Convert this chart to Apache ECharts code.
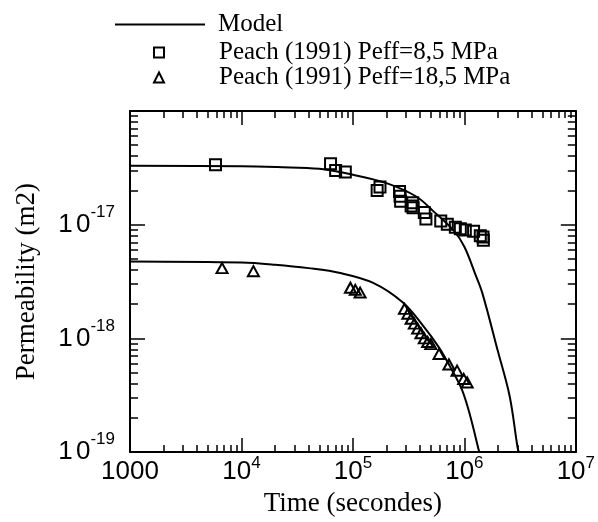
<!DOCTYPE html>
<html><head><meta charset="utf-8">
<script src="https://cdn.jsdelivr.net/npm/echarts@6/dist/echarts.min.js"></script>
<style>html,body{margin:0;padding:0;background:#fff}#c{width:598px;height:522px}</style>
</head><body><div id="c"></div>
<script>
// Model curves
const modelHighT = [1000, 1e4, 2.1e4, 5e4, 1e5, 2e5, 3.7e5, 5.2e5, 8e5, 1e6, 1.25e6, 1.45e6, 2e6, 2.55e6, 3.0e6, 3.08e6];
const modelHighK = [3.3e-17, 3.27e-17, 3.21e-17, 3.1e-17, 2.75e-17, 2.32e-17, 1.77e-17, 1.33e-17, 8.9e-18, 6.4e-18, 3.7e-18, 2.5e-18, 7.7e-19, 3.1e-19, 1.1e-19, 1e-19];
const modelLowT = [1000, 1e4, 2e4, 4e4, 7.7e4, 1.52e5, 2.81e5, 4.22e5, 5.93e5, 7.8e5, 9.55e5, 1.13e6, 1.34e6, 1.36e6];
const modelLowK = [4.75e-18, 4.65e-18, 4.45e-18, 4.15e-18, 3.76e-18, 3.08e-18, 2.07e-18, 1.31e-18, 8.3e-19, 5.2e-19, 3.5e-19, 2.07e-19, 1.06e-19, 1e-19];
// Peach (1991) Peff=8,5 MPa
const sqT = [5850, 6.3e4, 7.0e4, 8.55e4, 1.65e5, 1.75e5, 2.62e5, 2.65e5, 2.68e5, 3.33e5, 3.44e5, 3.47e5, 4.37e5, 4.52e5, 6.14e5, 7.03e5, 8.3e5, 9.2e5, 1.02e6, 1.21e6, 1.39e6, 1.48e6, 1.47e6];
const sqK = [3.36e-17, 3.43e-17, 3.0e-17, 2.91e-17, 2.0e-17, 2.15e-17, 1.96e-17, 1.78e-17, 1.61e-17, 1.46e-17, 1.56e-17, 1.41e-17, 1.28e-17, 1.12e-17, 1.08e-17, 1.01e-17, 9.5e-18, 9.2e-18, 9.0e-18, 8.75e-18, 8.0e-18, 7.3e-18, 7.8e-18];
// Peach (1991) Peff=18,5 MPa
const triT = [6700, 1.28e4, 9.5e4, 1.05e5, 1.16e5, 2.9e5, 3.11e5, 3.33e5, 3.56e5, 3.81e5, 4.08e5, 4.37e5, 4.68e5, 5.0e5, 5.93e5, 7.27e5, 8.6e5, 9.86e5, 1.06e6];
const triK = [4.15e-18, 3.9e-18, 2.79e-18, 2.67e-18, 2.53e-18, 1.82e-18, 1.65e-18, 1.49e-18, 1.35e-18, 1.22e-18, 1.11e-18, 1.0e-18, 9.3e-19, 8.9e-19, 7.3e-19, 5.9e-19, 5.2e-19, 4.4e-19, 4.1e-19];
// Ticks
const xMajor = [1000, 1e4, 1e5, 1e6, 1e7];
const yMajor = [1e-19, 1e-18, 1e-17, 1e-16];
const yLabels = [1e-19, 1e-18, 1e-17];
const names = ['Model', 'Peach (1991) Peff=8,5 MPa', 'Peach (1991) Peff=18,5 MPa'];

function minors(majors) {
  const out = [];
  for (let i = 0; i < majors.length - 1; i++) for (let m = 2; m <= 9; m++) out.push(majors[i] * m);
  return out;
}
const xMinor = minors(xMajor), yMinor = minors(yMajor);
const zip = (a, b) => a.map((v, i) => [v, b[i]]);
const exp = v => Math.round(Math.log10(v));

const SANS = 'Liberation Sans', SERIF = 'Liberation Serif';
const xRich = {
  b: {fontFamily: SANS, fontSize: 26, lineHeight: 30, verticalAlign: 'bottom', color: '#000'},
  s: {fontFamily: SANS, fontSize: 17, lineHeight: 17, verticalAlign: 'top', color: '#000'}
};
const yRich = {
  b: {fontFamily: SANS, fontSize: 26, lineHeight: 34, verticalAlign: 'bottom', color: '#000'},
  sp: {fontFamily: SANS, fontSize: 12, lineHeight: 34, verticalAlign: 'bottom'},
  s: {fontFamily: SANS, fontSize: 17, lineHeight: 17, verticalAlign: 'top', color: '#000'}
};
const lineC = {show: true, lineStyle: {color: '#000', width: 2}};
function xAx(pos, major, labels) {
  return {
    type: 'log', logBase: 10, min: 1000, max: 1e7, position: pos,
    axisLine: major ? lineC : {show: false},
    splitLine: {show: false},
    axisTick: {show: true, inside: true, length: major ? 14 : 7, customValues: major ? xMajor : xMinor, lineStyle: {color: '#000', width: 1.5}},
    minorTick: {show: false},
    axisLabel: labels ? {
      show: true, customValues: xMajor, margin: 3,
      formatter: v => v === 1000 ? '{b|1000}' : '{b|10}{s|' + exp(v) + '}', rich: xRich
    } : {show: false}
  };
}
function yAx(pos, major, labels) {
  return {
    type: 'log', logBase: 10, min: 1e-19, max: 1e-16, position: pos,
    axisLine: major ? lineC : {show: false},
    splitLine: {show: false},
    axisTick: {show: true, inside: true, length: major ? 15 : 8, customValues: major ? yMajor : yMinor, lineStyle: {color: '#000', width: 1.5}},
    minorTick: {show: false},
    axisLabel: labels ? {
      show: true, customValues: yLabels, margin: 15, padding: [0, 0, 8, 0],
      formatter: v => '{b|1}{sp| }{b|0}{s|' + exp(v) + '}', rich: yRich
    } : {show: false}
  };
}
const xAxes = [xAx('bottom', true, true), xAx('bottom', false, false), xAx('top', true, false), xAx('top', false, false)];
xAxes[0].name = 'Time (secondes)';
xAxes[0].nameLocation = 'middle';
xAxes[0].nameGap = 20;
xAxes[0].nameTextStyle = {fontFamily: SERIF, fontSize: 27, color: '#000'};
const yAxes = [yAx('left', true, true), yAx('left', false, false), yAx('right', true, false), yAx('right', false, false)];
yAxes[0].name = 'Permeability (m2)';
yAxes[0].nameLocation = 'middle';
yAxes[0].nameGap = 90;
yAxes[0].nameTextStyle = {fontFamily: SERIF, fontSize: 27, color: '#000'};

const legText = {fontFamily: SERIF, fontSize: 25, lineHeight: 25, color: '#000'};
const option = {
  animation: false,
  backgroundColor: '#fff',
  grid: {left: 130, right: 16, top: 111, bottom: 62},
  legend: [
    {data: [{name: names[0], icon: 'rect'}], left: 110, top: 7, itemWidth: 90, itemHeight: 2, itemGap: 0,
     itemStyle: {color: '#000', borderWidth: 0},
     textStyle: Object.assign({}, legText, {padding: [0, 0, 0, 8]})},
    {data: [names[1], names[2]], orient: 'vertical', left: 148, top: 35, itemWidth: 10, itemHeight: 10, itemGap: 0,
     textStyle: Object.assign({}, legText, {padding: [0, 0, 0, 50]})}
  ],
  xAxis: xAxes,
  yAxis: yAxes,
  series: [
    {name: names[0], type: 'line', data: zip(modelHighT, modelHighK), showSymbol: false, symbol: 'none', smooth: 0.35,
     lineStyle: {color: '#000', width: 2}, itemStyle: {color: '#000'}, z: 2},
    {name: names[0], type: 'line', data: zip(modelLowT, modelLowK), showSymbol: false, symbol: 'none', smooth: 0.35,
     lineStyle: {color: '#000', width: 2}, itemStyle: {color: '#000'}, z: 2},
    {name: names[1], type: 'scatter', data: zip(sqT, sqK), symbol: 'rect', symbolSize: 11,
     itemStyle: {color: 'rgba(0,0,0,0)', borderColor: '#000', borderWidth: 2, opacity: 1}, z: 3},
    {name: names[2], type: 'scatter', data: zip(triT, triK), symbol: 'triangle', symbolSize: [11, 10],
     itemStyle: {color: 'rgba(0,0,0,0)', borderColor: '#000', borderWidth: 2, opacity: 1}, z: 3}
  ]
};
const chart = echarts.init(document.getElementById('c'), null, {renderer: 'canvas'});
chart.setOption(option);
</script>
</body></html>
